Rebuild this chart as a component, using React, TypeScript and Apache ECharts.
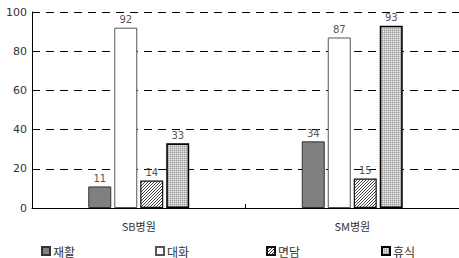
import React, { useEffect, useRef } from "react";
import * as echarts from "echarts";

const categories = ["SB병원", "SM병원"];
const seriesNames = ["재활", "대화", "면담", "휴식"];
const rehab = [11, 34];
const talk = [92, 87];
const counsel = [14, 15];
const rest = [33, 93];
const yTicks = [0, 20, 40, 60, 80, 100];

function makeTile(size: number, paint: (ctx: CanvasRenderingContext2D) => void) {
  const c = document.createElement("canvas");
  c.width = size;
  c.height = size;
  const ctx = c.getContext("2d")!;
  paint(ctx);
  return c;
}

export default function App() {
  const ref = useRef<HTMLDivElement>(null);
  useEffect(() => {
    if (!ref.current) return;
    const chart = echarts.init(ref.current, null, { renderer: "svg" });
    const font = "'Noto Sans CJK KR', 'DejaVu Sans', sans-serif";
    const hatch = makeTile(3, (ctx) => {
      ctx.fillStyle = "#ffffff";
      ctx.fillRect(0, 0, 3, 3);
      ctx.fillStyle = "#444444";
      ctx.fillRect(0, 2, 1, 1);
      ctx.fillRect(1, 1, 1, 1);
      ctx.fillRect(2, 0, 1, 1);
    });
    const dots = makeTile(2, (ctx) => {
      ctx.fillStyle = "#e4e4e4";
      ctx.fillRect(0, 0, 2, 2);
      ctx.fillStyle = "#a0a0a0";
      ctx.fillRect(0, 0, 1, 1);
      ctx.fillStyle = "#c4c4c4";
      ctx.fillRect(1, 0, 1, 1);
      ctx.fillRect(0, 1, 1, 1);
    });
    const label = {
      show: true,
      position: "top" as const,
      fontSize: 10,
      color: "#555555",
      textBorderWidth: 0,
      distance: 3,
      fontFamily: "'DejaVu Sans', sans-serif",
    };
    const styles = [
      { color: "#808080", borderColor: "#333", borderWidth: 1 },
      { color: "#ffffff", borderColor: "#555", borderWidth: 1 },
      { color: { image: hatch, repeat: "repeat" }, borderColor: "#111", borderWidth: 1.2 },
      { color: { image: dots, repeat: "repeat" }, borderColor: "#000", borderWidth: 1.6 },
    ];
    const dataSets = [rehab, talk, counsel, rest];
    const legendLefts = [41, 155, 266, 381];
    chart.setOption({
      animation: false,
      grid: { left: 32, right: 0, top: 12, bottom: 50 },
      legend: seriesNames.map((n, i) => ({
        data: [{ name: n, icon: "rect" }],
        left: legendLefts[i],
        top: 245,
        itemWidth: 8,
        itemHeight: 8,
        itemGap: 4,
        padding: 0,
        textStyle: { fontSize: 12, color: "#333", fontFamily: font, padding: [1, 0, 0, -2] },
      })),
      xAxis: {
        type: "category",
        data: categories,
        axisLine: { lineStyle: { color: "#000", width: 1 } },
        axisTick: { show: true, inside: true, length: 4, lineStyle: { color: "#000" } },
        axisLabel: { fontSize: 11, color: "#333", margin: 12, fontFamily: font },
      },
      yAxis: {
        type: "value",
        min: yTicks[0],
        max: yTicks[yTicks.length - 1],
        interval: 20,
        axisLine: { show: true, lineStyle: { color: "#000", width: 1 } },
        axisTick: { show: false },
        axisLabel: { fontSize: 11, color: "#333", margin: 5, fontFamily: "'DejaVu Sans', sans-serif" },
        splitLine: { show: true, lineStyle: { color: "#000", type: [8, 6], width: 1 } },
      },
      series: seriesNames.map((n, i) => ({
        name: n,
        type: "bar",
        data: dataSets[i],
        barWidth: 23,
        barGap: "13%",
        itemStyle: styles[i],
        label,
      })),
    });
    return () => chart.dispose();
  }, []);
  return <div ref={ref} style={{ width: 459, height: 258, position: "absolute", left: 0, top: 0, background: "#fff" }} />;
}
